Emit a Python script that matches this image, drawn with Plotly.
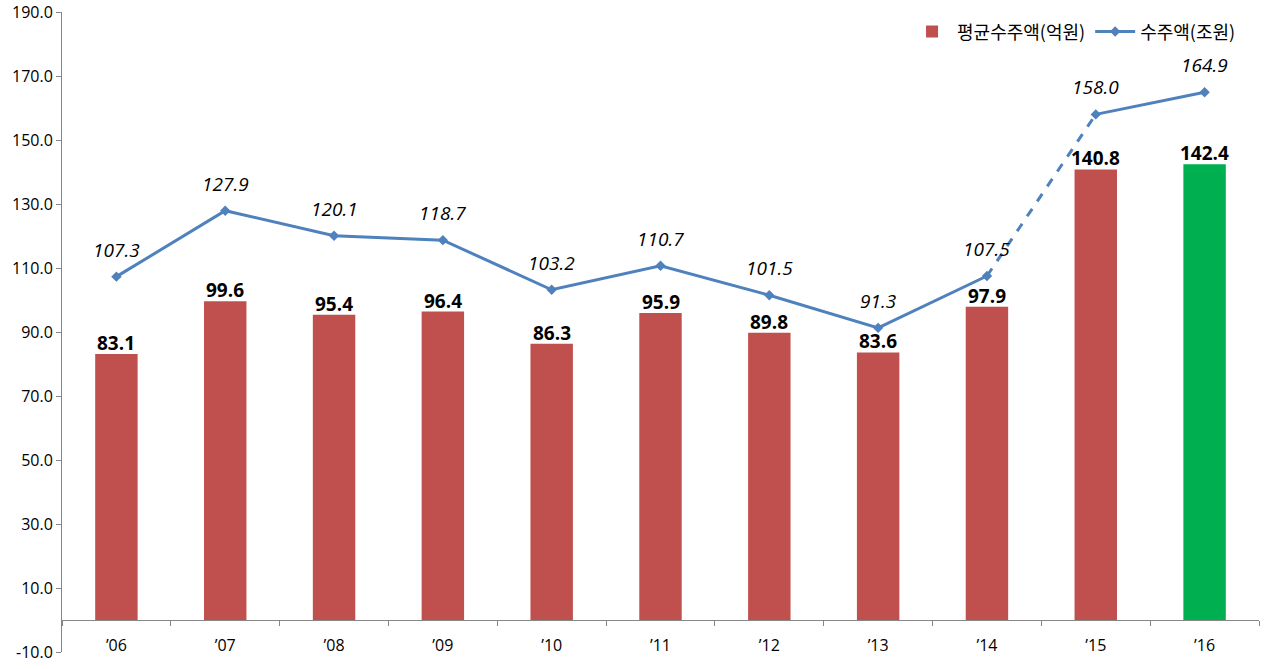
import plotly.graph_objects as go

years = ["’06", "’07", "’08", "’09", "’10", "’11", "’12", "’13", "’14", "’15", "’16"]
avg_order = [83.1, 99.6, 95.4, 96.4, 86.3, 95.9, 89.8, 83.6, 97.9, 140.8, 142.4]
total_order = [107.3, 127.9, 120.1, 118.7, 103.2, 110.7, 101.5, 91.3, 107.5, 158.0, 164.9]
y_ticks = [-10, 10, 30, 50, 70, 90, 110, 130, 150, 170, 190]
bar_colors = ["#C0504D"] * 10 + ["#00B050"]

LINE = "#4F81BD"
NUMFONT = "Open Sans"

fig = go.Figure()
fig.add_trace(go.Bar(
    x=years, y=avg_order, name="평균수주액(억원)",
    marker=dict(color=bar_colors, line=dict(width=0)),
    width=0.39,
))
fig.add_trace(go.Scatter(
    x=years[:9], y=total_order[:9], name="수주액(조원)", mode="lines+markers",
    line=dict(color=LINE, width=3), marker=dict(symbol="diamond", size=8, color=LINE),
))
fig.add_trace(go.Scatter(
    x=years[8:10], y=total_order[8:10], mode="lines", showlegend=False,
    line=dict(color=LINE, width=3, dash="dash"),
))
fig.add_trace(go.Scatter(
    x=years[9:], y=total_order[9:], mode="lines+markers", showlegend=False,
    line=dict(color=LINE, width=3), marker=dict(symbol="diamond", size=8, color=LINE),
))

for yr, v in zip(years, avg_order):
    fig.add_annotation(x=yr, y=v, text=f"<b>{v:.1f}</b>", showarrow=False,
                       yanchor="middle", yshift=11,
                       font=dict(size=19, color="black", family=NUMFONT))
for yr, v in zip(years, total_order):
    fig.add_annotation(x=yr, y=v, text=f"<i>{v:.1f}</i>", showarrow=False,
                       yanchor="middle", yshift=27,
                       font=dict(size=19, color="black", family=NUMFONT))

fig.update_layout(
    width=1266, height=669,
    margin=dict(l=62, r=7, t=12, b=17),
    plot_bgcolor="white", paper_bgcolor="white",
    barmode="overlay",
    showlegend=True,
    legend=dict(orientation="h", x=0.985, xanchor="right", y=0.998, yanchor="top",
                font=dict(size=18, family="Noto Sans CJK KR", color="black"),
                bgcolor="rgba(0,0,0,0)", itemwidth=40),
    font=dict(family="Noto Sans CJK KR"),
)
fig.update_yaxes(
    range=[-10, 190], tickmode="array", tickvals=y_ticks,
    ticktext=[f"{t:.1f}" for t in y_ticks], ticklabeloverflow="allow", automargin=False,
    showgrid=False, zeroline=False, showline=True, linecolor="#868686", linewidth=1,
    ticks="outside", ticklen=5, tickcolor="#868686",
    tickfont=dict(size=16, color="black", family=NUMFONT),
)
fig.update_xaxes(
    anchor="free", position=0.05, range=[-0.5, 10.5], automargin=False,
    showgrid=False, showline=True, linecolor="#868686", linewidth=1,
    ticks="outside", ticklen=5, tickcolor="#868686", tickson="boundaries",
    tickfont=dict(size=16, color="black", family=NUMFONT),
    ticklabelstandoff=11,
)

fig.write_html("out.html")
